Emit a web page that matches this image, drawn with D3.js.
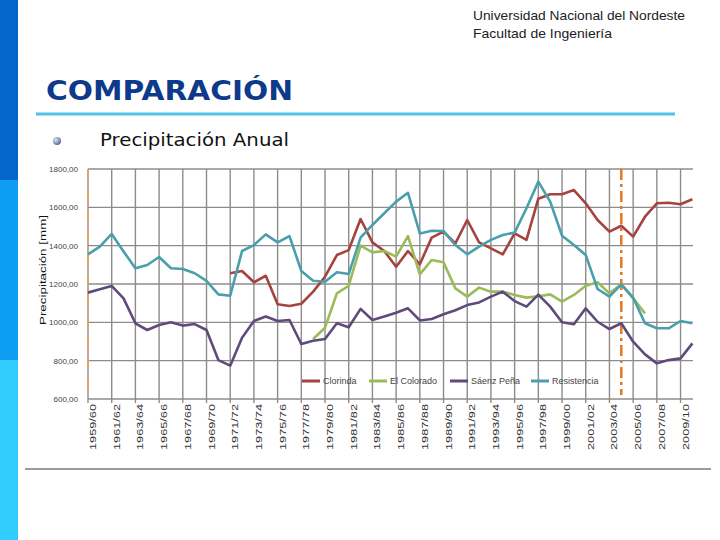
<!DOCTYPE html>
<html><head><meta charset="utf-8">
<script src="https://cdn.jsdelivr.net/npm/d3@7"></script>
<style>html,body{margin:0;padding:0;background:#fff;overflow:hidden}</style>
</head><body><svg id="c" width="720" height="540"></svg>
<script>
const categories = ["1959/60","1960/61","1961/62","1962/63","1963/64","1964/65","1965/66","1966/67","1967/68","1968/69",
"1969/70","1970/71","1971/72","1972/73","1973/74","1974/75","1975/76","1976/77","1977/78","1978/79",
"1979/80","1980/81","1981/82","1982/83","1983/84","1984/85","1985/86","1986/87","1987/88","1988/89",
"1989/90","1990/91","1991/92","1992/93","1993/94","1994/95","1995/96","1996/97","1997/98","1998/99",
"1999/00","2000/01","2001/02","2002/03","2003/04","2004/05","2005/06","2006/07","2007/08","2008/09",
"2009/10","2010/11"];
const clorinda = [null,null,null,null,null,null,null,null,null,null,
null,null,1256,1268,1209,1243,1094,1085,1097,1160,
1238,1351,1377,1539,1417,1372,1290,1372,1303,1442,
1473,1412,1534,1417,1386,1355,1464,1430,1645,1668,
1668,1690,1621,1534,1473,1504,1447,1551,1621,1624,
1616,1642];
const elColorado = [null,null,null,null,null,null,null,null,null,null,
null,null,null,null,null,null,null,null,null,913,
972,1151,1191,1400,1365,1372,1343,1450,1250,1325,
1313,1177,1134,1181,1160,1160,1143,1129,1136,1146,
1108,1143,1191,1209,1151,1198,1125,1047,null,null,
null,null];
const saenzPena = [1155,1172,1190,1125,995,960,986,1000,983,991,
960,803,774,920,1007,1030,1007,1012,887,904,
913,995,974,1070,1012,1030,1050,1073,1010,1017,
1042,1063,1090,1104,1134,1160,1111,1082,1145,1082,
1000,990,1073,1003,965,995,899,833,786,803,
812,890];
const resistencia = [1355,1395,1461,1370,1282,1299,1341,1282,1278,1256,
1216,1146,1139,1372,1403,1459,1417,1450,1268,1217,
1212,1261,1252,1442,1508,1569,1630,1676,1464,1478,
1476,1403,1355,1395,1430,1456,1468,1595,1734,1630,
1452,1403,1351,1174,1134,1198,1129,995,969,969,
1007,995];
const seriesNames = ["Clorinda","El Colorado","Sáenz Peña","Resistencia"];
const seriesColors = ["#a5433f","#9bbb59","#604a7b","#4a9fad"];
const yTicks = [600,800,1000,1200,1400,1600,1800];
const yTickLabels = ["600,00","800,00","1000,00","1200,00","1400,00","1600,00","1800,00"];
const markerCategories = ["1959/60","2004/05"];
const yTitle = "Precipitación [mm]";

const svg = d3.select("#c");
svg.append("rect").attr("width",720).attr("height",540).attr("fill","#fff");

// slide decorations
svg.append("rect").attr("x",0).attr("y",0).attr("width",18).attr("height",180).attr("fill","#0566c9");
svg.append("rect").attr("x",0).attr("y",180).attr("width",18).attr("height",180).attr("fill","#0d9ef2");
svg.append("rect").attr("x",0).attr("y",360).attr("width",18).attr("height",180).attr("fill","#33ccff");

svg.append("text").attr("x",473).attr("y",20).attr("font-family","Liberation Sans, Arial, sans-serif")
  .attr("font-size",13).attr("fill","#222").attr("textLength",212).attr("lengthAdjust","spacingAndGlyphs")
  .text("Universidad Nacional del Nordeste");
svg.append("text").attr("x",473).attr("y",38).attr("font-family","Liberation Sans, Arial, sans-serif")
  .attr("font-size",13).attr("fill","#222").attr("textLength",139).attr("lengthAdjust","spacingAndGlyphs")
  .text("Facultad de Ingeniería");

svg.append("text").attr("x",46).attr("y",100).attr("font-family","DejaVu Sans, Verdana, sans-serif")
  .attr("font-weight","bold").attr("font-size",27).attr("fill","#0d3a8a")
  .attr("textLength",247).attr("lengthAdjust","spacingAndGlyphs").text("COMPARACIÓN");
svg.append("rect").attr("x",36).attr("y",112.5).attr("width",639).attr("height",3).attr("fill","#4fc3e6");

const defs = svg.append("defs");
const rg = defs.append("radialGradient").attr("id","bul").attr("cx","0.35").attr("cy","0.35").attr("r","0.7");
rg.append("stop").attr("offset","0").attr("stop-color","#dfe7f2");
rg.append("stop").attr("offset","1").attr("stop-color","#4b6b96");
svg.append("circle").attr("cx",57).attr("cy",141).attr("r",4).attr("fill","url(#bul)");
svg.append("text").attr("x",100).attr("y",146).attr("font-family","DejaVu Sans, Verdana, sans-serif")
  .attr("font-size",18).attr("fill","#111").attr("textLength",189).attr("lengthAdjust","spacingAndGlyphs")
  .text("Precipitación Anual");

svg.append("rect").attr("x",25).attr("y",468).attr("width",686).attr("height",2).attr("fill","#9a9a9a");

// chart
const x = d3.scalePoint().domain(categories).range([88, 692.4]);
const y = d3.scaleLinear().domain([600,1800]).range([399,169]);
const g = svg.append("g");

g.selectAll(".hg").data(yTicks).enter().append("line")
  .attr("x1",88).attr("x2",693).attr("y1",d=>y(d)).attr("y2",d=>y(d))
  .attr("stroke","#8c8c8c").attr("stroke-width",1.4);
const evenCats = categories.filter((c,i)=>i%2===0);
g.selectAll(".vg").data(evenCats).enter().append("line")
  .attr("x1",d=>x(d)).attr("x2",d=>x(d)).attr("y1",y(1800)).attr("y2",y(600)+4)
  .attr("stroke","#8c8c8c").attr("stroke-width",1.4);

g.selectAll(".yl").data(yTicks).enter().append("text")
  .attr("x",78).attr("y",d=>y(d)+3).attr("text-anchor","end")
  .attr("font-family","Liberation Sans, Arial, sans-serif").attr("font-size",8).attr("fill","#444")
  .text((d,i)=>yTickLabels[i]);

g.selectAll(".xl").data(evenCats).enter().append("text")
  .attr("transform",d=>`translate(${x(d)+8},404) rotate(-90)`).attr("text-anchor","end")
  .attr("font-family","Liberation Sans, Arial, sans-serif").attr("font-size",8.5).attr("fill","#333")
  .attr("textLength",46).attr("lengthAdjust","spacingAndGlyphs")
  .text(d=>d);

svg.append("text").attr("transform","translate(46,270) rotate(-90)").attr("text-anchor","middle")
  .attr("font-family","Liberation Sans, Arial, sans-serif").attr("font-size",9).attr("fill","#111")
  .attr("textLength",110).attr("lengthAdjust","spacingAndGlyphs").text(yTitle);

// marker lines
g.append("line").attr("x1",x(markerCategories[0])).attr("x2",x(markerCategories[0]))
  .attr("y1",y(1800)).attr("y2",y(600)).attr("stroke","#d9a46e").attr("stroke-width",2)
  .attr("stroke-dasharray","10,4,3,4");
g.append("line").attr("x1",x(markerCategories[1])).attr("x2",x(markerCategories[1]))
  .attr("y1",y(1800)).attr("y2",y(600)-4).attr("stroke","#e8781f").attr("stroke-width",2.5)
  .attr("stroke-dasharray","11,4,3,4");

const allSeries = [clorinda, elColorado, saenzPena, resistencia];
const line = d3.line().defined(d=>d.v!=null).x(d=>x(d.c)).y(d=>y(d.v));
allSeries.forEach((s,k)=>{
  g.append("path").datum(s.map((v,i)=>({c:categories[i],v})))
    .attr("d",line).attr("fill","none").attr("stroke",seriesColors[k])
    .attr("stroke-width",2.6).attr("stroke-linejoin","round");
});

// legend
const legX = [302,369,450,531];
const leg = g.selectAll(".lg").data(seriesNames).enter().append("g")
  .attr("transform",(d,i)=>`translate(${legX[i]},381)`);
leg.append("line").attr("x1",0).attr("x2",18).attr("stroke",(d,i)=>seriesColors[i]).attr("stroke-width",3);
leg.append("text").attr("x",21).attr("y",3).attr("font-family","Liberation Sans, Arial, sans-serif")
  .attr("font-size",9).attr("fill","#444").text(d=>d);
</script></body></html>
